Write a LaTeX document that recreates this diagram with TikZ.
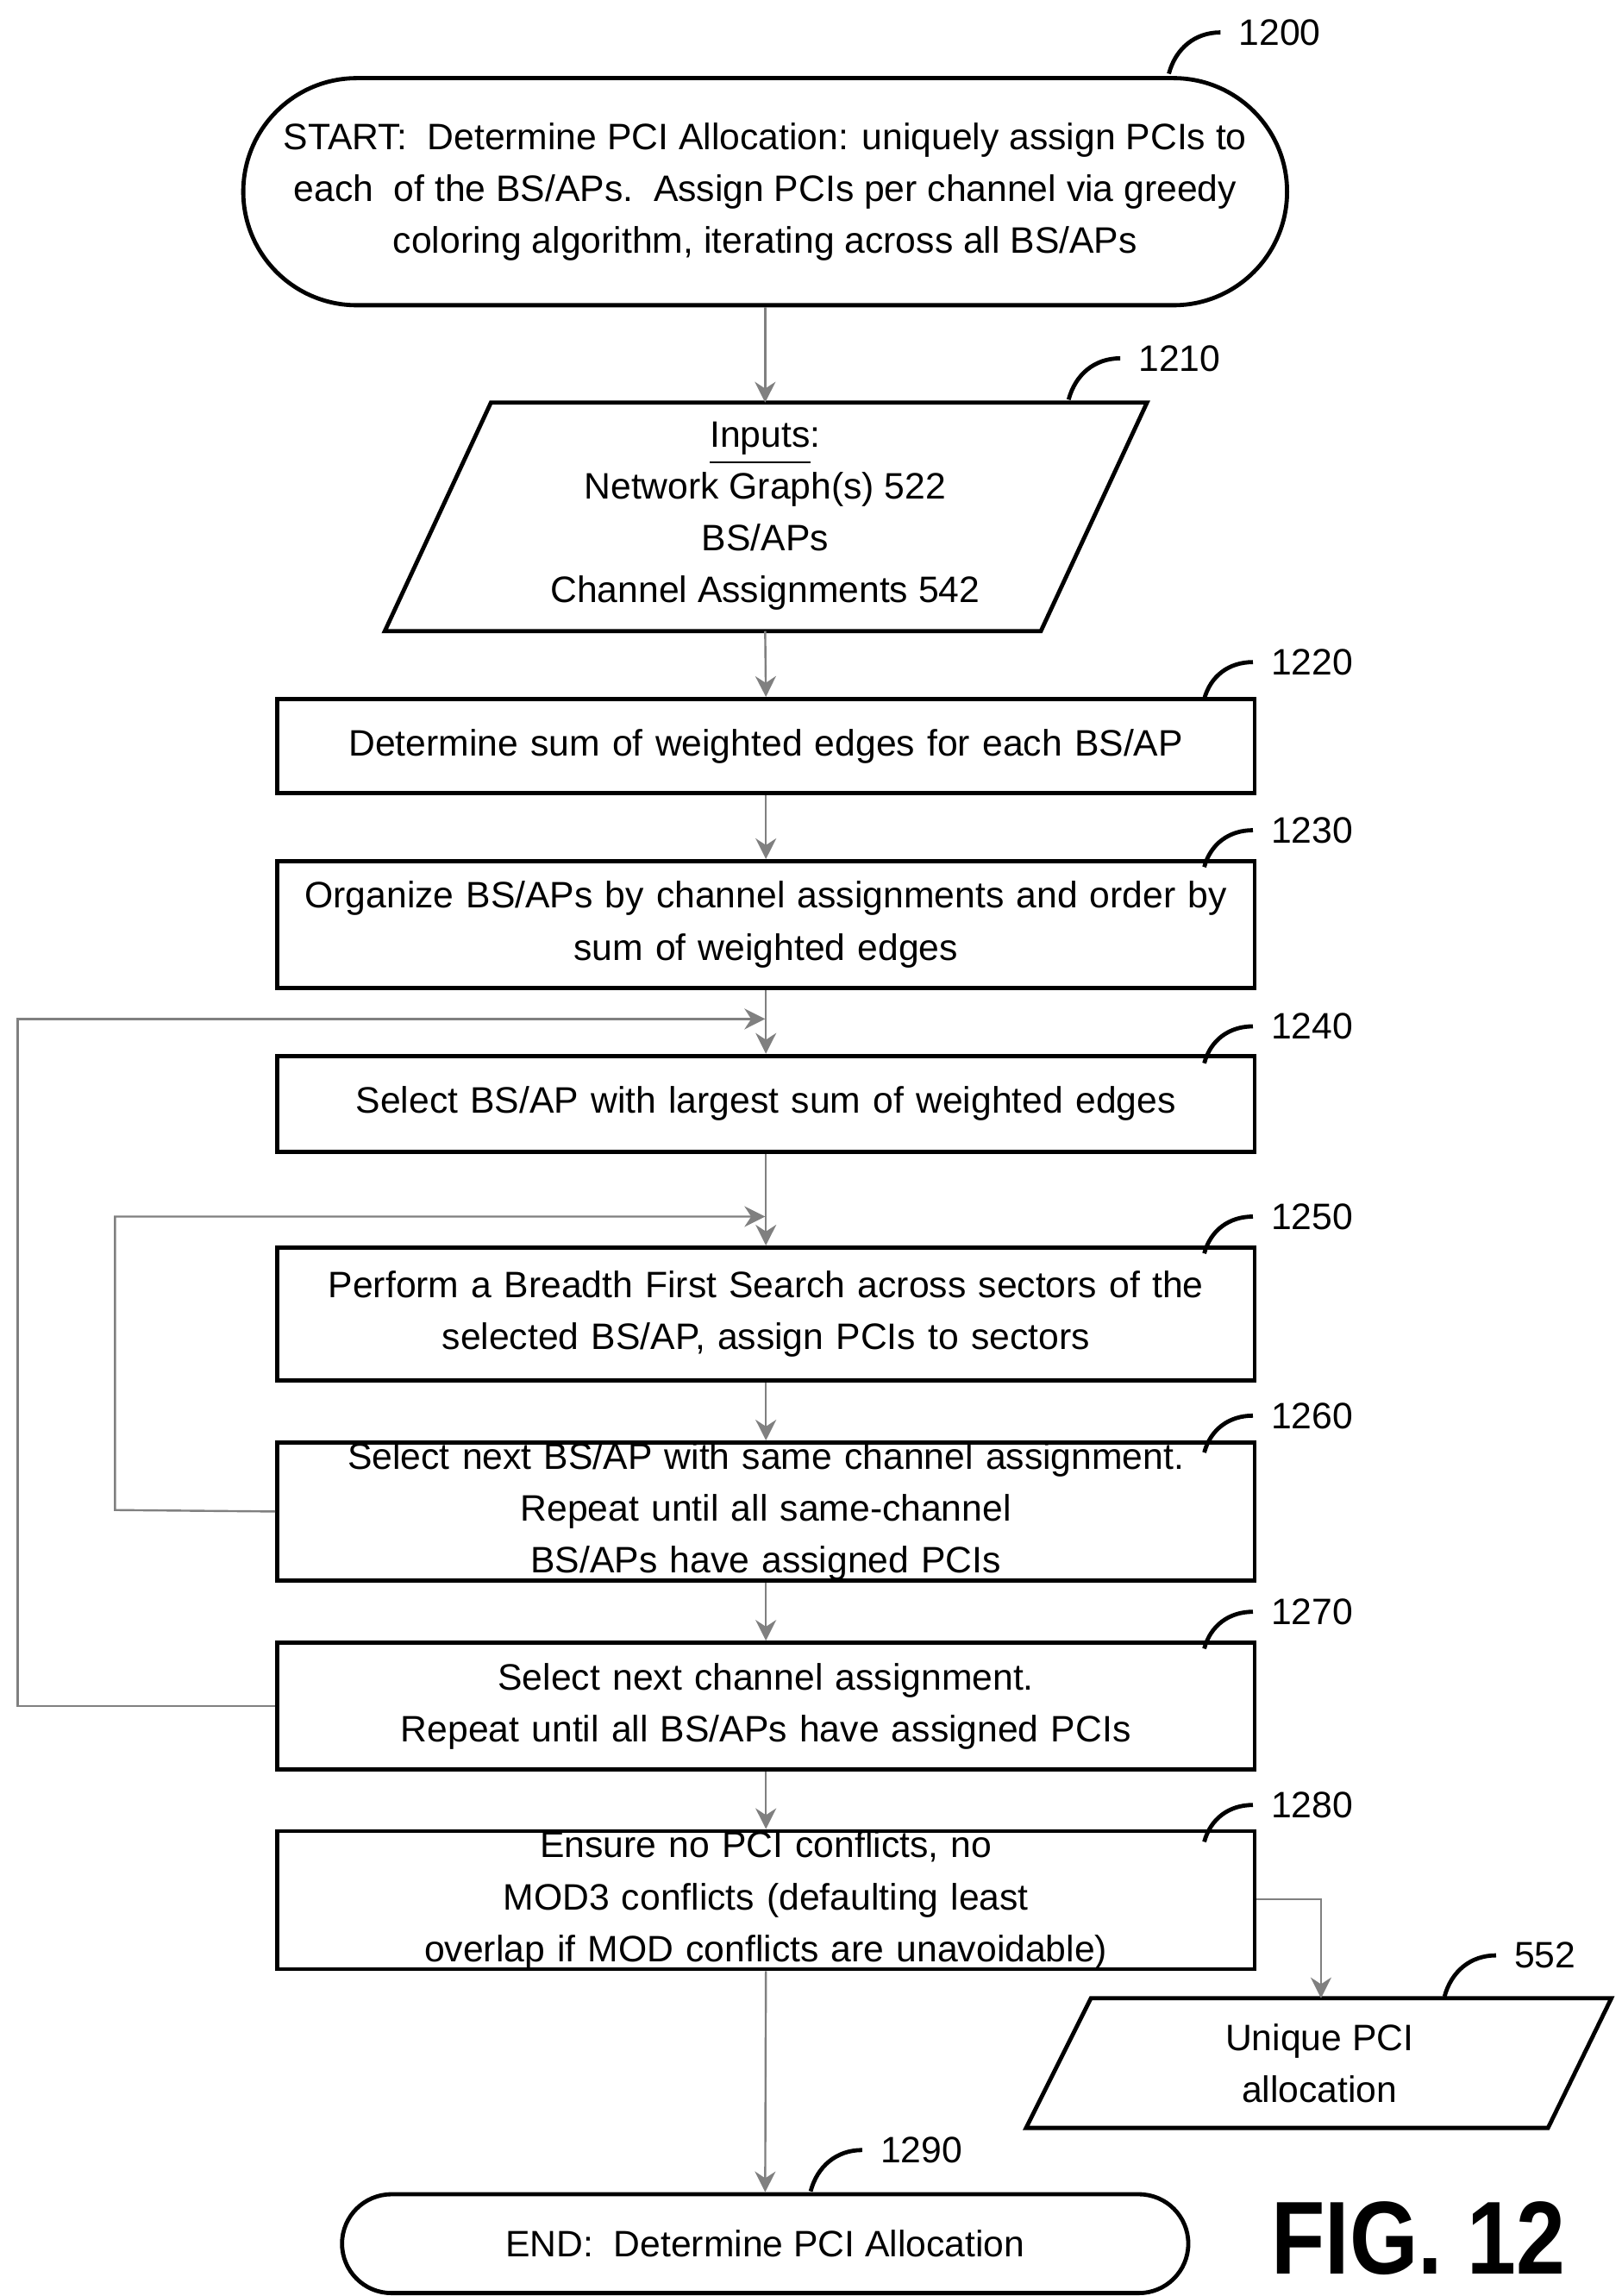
\documentclass[tikz,border=0pt]{standalone}
\usepackage{fontspec}
\setmainfont{Liberation Sans}
\usetikzlibrary{arrows.meta}
\begin{document}
\begin{tikzpicture}[x=1cm,y=1cm,
  every node/.style={font=\fontsize{7.1}{10}\selectfont},
  box/.style={draw,thick,minimum width=6.63cm,text width=6.55cm,align=center,inner sep=0pt},
  term/.style={draw,thick,align=center},
  ar/.style={draw=gray,-{Stealth[length=4pt,width=4pt]},line width=0.4pt},
  ln/.style={draw=gray,line width=0.4pt},
  lead/.style={thick},
  lbl/.style={font=\fontsize{7.1}{10}\selectfont}]
\useasboundingbox (0,0) rectangle (11,-15.57);
% start
\node[term,minimum width=7.08cm,minimum height=1.54cm,rounded corners=0.77cm] (start) at (5.19,-1.30) {START:\ \ Determine PCI Allocation: uniquely assign PCIs to\\each\ \ of the BS/APs.\ \ Assign PCIs per channel via greedy\\coloring algorithm, iterating across all BS/APs};
\node[lbl] (l1200) at (8.68,-0.22) {1200};
\draw[lead] (l1200.west) ++(-0.35,-0.28) to[out=75,in=180] (l1200.west);
% inputs
\draw[thick] (3.33,-2.73) coordinate (in1) -- (7.78,-2.73) -- (7.06,-4.28) -- (2.61,-4.28) -- cycle;
\node[align=center] (inputs) at (5.19,-3.50) {\underline{Inputs}:\\Network Graph(s) 522\\BS/APs\\Channel Assignments 542};
\coordinate (inT) at (5.19,-2.73); \coordinate (inB) at (5.19,-4.28);
\node[lbl] (l1210) at (8.00,-2.43) {1210};
\draw[lead] (l1210.west) ++(-0.35,-0.28) to[out=75,in=180] (l1210.west);
% boxes
\node[box,minimum height=0.64cm] (b1220) at (5.195,-5.06) {Determine sum of weighted edges for each BS/AP};
\node[box,minimum height=0.86cm] (b1230) at (5.195,-6.27) {Organize BS/APs by channel assignments and order by\\sum of weighted edges};
\node[box,minimum height=0.65cm] (b1240) at (5.195,-7.485) {Select BS/AP with largest sum of weighted edges};
\node[box,minimum height=0.90cm] (b1250) at (5.195,-8.91) {Perform a Breadth First Search across sectors of the\\selected BS/AP, assign PCIs to sectors};
\node[box,minimum height=0.88cm] (b1260) at (5.195,-10.25) {Select next BS/AP with same channel assignment.\\Repeat until all same-channel BS/APs have assigned PCIs};
\node[box,minimum height=0.86cm] (b1270) at (5.195,-11.57) {Select next channel assignment.\\Repeat until all BS/APs have assigned PCIs};
\node[box,minimum height=0.87cm] (b1280) at (5.195,-12.885) {Ensure no PCI conflicts, no MOD3 conflicts (defaulting least\\overlap if MOD conflicts are unavoidable)};
\foreach \n/\y in {1220/4.49,1230/5.63,1240/6.96,1250/8.25,1260/9.60,1270/10.93,1280/12.24}{
  \node[lbl] (l\n) at (8.90,-\y) {\n};
  \draw[lead] (l\n.west) ++(-0.33,-0.25) to[out=75,in=180] (l\n.west);
}
% output
\draw[thick] (7.40,-13.55) -- (10.93,-13.55) -- (10.50,-14.43) -- (6.96,-14.43) -- cycle;
\node[align=center] (out) at (8.95,-13.99) {Unique PCI\\allocation};
\coordinate (outT) at (8.96,-13.55);
\node[lbl] (l552) at (10.48,-13.26) {552};
\draw[lead] (l552.west) ++(-0.35,-0.28) to[out=75,in=180] (l552.west);
% end
\node[term,minimum width=5.74cm,minimum height=0.67cm,rounded corners=0.335cm] (end) at (5.19,-15.215) {END:\ \ Determine PCI Allocation};
\node[lbl] (l1290) at (6.25,-14.58) {1290};
\draw[lead] (l1290.west) ++(-0.35,-0.28) to[out=75,in=180] (l1290.west);
% connectors
\draw[ar] (start.south) -- (inT);
\draw[ar] (inB) -- (b1220.north);
\draw[ar] (b1220.south) -- (b1230.north);
\draw[ar] (b1230.south) -- (b1240.north);
\draw[ar] (b1240.south) -- (b1250.north);
\draw[ar] (b1250.south) -- (b1260.north);
\draw[ar] (b1260.south) -- (b1270.north);
\draw[ar] (b1270.south) -- (b1280.north);
\draw[ar] (b1280.south) -- (end.north);
\coordinate (j1) at (5.19,-6.91); \coordinate (j2) at (5.19,-8.25);
\draw[ar] (b1270.west) -- (0.12,-11.57) -- (0.12,-6.91) -- (j1);
\draw[ar] (b1260.west) -- (0.78,-10.24) -- (0.78,-8.25) -- (j2);
\draw[ar] (b1280.east |- 0,-12.88) -- (8.96,-12.88) -- (outT);
% fig
\node[font=\bfseries\fontsize{20}{24}\selectfont,xscale=0.85] (fig) at (9.62,-15.18) {FIG. 12};
\end{tikzpicture}
\end{document}
